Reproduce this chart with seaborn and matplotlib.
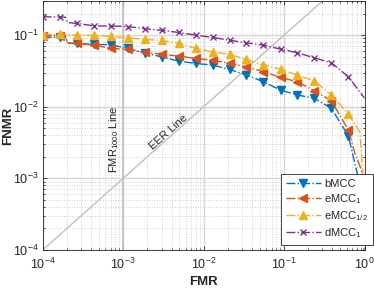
import numpy as np
import matplotlib
matplotlib.use("Agg")
import matplotlib.pyplot as plt
import matplotlib.ticker as mticker
import seaborn as sns

# data (FMR given as log10, FNMR as value)
bmcc_fmr_log = [-4.0, -3.789, -3.72, -3.69, -3.578, -3.367, -3.156, -2.944, -2.733, -2.522,
                -2.311, -2.1, -1.889, -1.678, -1.467, -1.256, -1.044, -0.833, -0.622, -0.411,
                -0.2, -0.10, -0.04, -0.03]
bmcc_fnmr = [0.0935, 0.0935, 0.0935, 0.078, 0.0766, 0.0741, 0.0735, 0.0653, 0.0561, 0.0498,
             0.0434, 0.0403, 0.0382, 0.0333, 0.0277, 0.0223, 0.0171, 0.0146, 0.0131, 0.0095,
             0.0039, 0.0013, 0.00069, 0.00034]
bmcc_marks = [0, 1] + list(range(4, 21))

emcc1_fmr_log = [-4.0, -3.789, -3.72, -3.69, -3.578, -3.367, -3.156, -2.944, -2.733, -2.522,
                 -2.311, -2.1, -1.889, -1.678, -1.467, -1.256, -1.044, -0.833, -0.622, -0.411,
                 -0.2, -0.121, -0.037, -0.01, -0.005]
emcc1_fnmr = [0.098, 0.098, 0.098, 0.078, 0.0766, 0.0726, 0.0653, 0.0632, 0.0574, 0.0544,
              0.0509, 0.0473, 0.0448, 0.0403, 0.0361, 0.0308, 0.0257, 0.0223, 0.0167, 0.0121,
              0.00473, 0.00226, 0.0013, 0.0004, 0.00005]
emcc1_marks = [0, 1] + list(range(4, 21))

emcc12_fmr_log = [-4.0, -3.789, -3.578, -3.367, -3.156, -2.944, -2.733, -2.522, -2.311, -2.1,
                  -1.889, -1.678, -1.467, -1.256, -1.044, -0.833, -0.622, -0.411, -0.2,
                  -0.058, -0.021, -0.015]
emcc12_fnmr = [0.102, 0.103, 0.100, 0.099, 0.096, 0.0917, 0.0871, 0.0843, 0.0774, 0.0653,
               0.0585, 0.0538, 0.0458, 0.0382, 0.0336, 0.0277, 0.0228, 0.0146, 0.00783,
               0.00448, 0.0013, 0.00025]
emcc12_marks = list(range(0, 19))

dmcc1_fmr_log = [-4.0, -3.789, -3.72, -3.69, -3.578, -3.367, -3.156, -2.944, -2.733, -2.522,
                 -2.311, -2.1, -1.889, -1.678, -1.467, -1.256, -1.044, -0.833, -0.622, -0.411,
                 -0.2, 0.0]
dmcc1_fnmr = [0.180, 0.180, 0.178, 0.150, 0.146, 0.135, 0.134, 0.132, 0.123, 0.117,
              0.109, 0.100, 0.093, 0.085, 0.078, 0.0726, 0.0638, 0.0567, 0.0482, 0.0411,
              0.0262, 0.0132]
dmcc1_marks = [0, 1] + list(range(4, 21))

series = [
    ("bMCC", bmcc_fmr_log, bmcc_fnmr, bmcc_marks, "#0072BD", "v"),
    ("eMCC$_1$", emcc1_fmr_log, emcc1_fnmr, emcc1_marks, "#D95319", "<"),
    ("eMCC$_{1/2}$", emcc12_fmr_log, emcc12_fnmr, emcc12_marks, "#EDB120", "^"),
    ("dMCC$_1$", dmcc1_fmr_log, dmcc1_fnmr, dmcc1_marks, "#7E2F8E", "x"),
]

sns.set_style("ticks")
plt.rcParams["font.family"] = ["Liberation Sans", "DejaVu Sans"]
plt.rcParams["mathtext.default"] = "regular"

fig = plt.figure(figsize=(3.74, 2.89), dpi=100)
ax = fig.add_axes([0.1142, 0.135, 0.8604, 0.8616])
ax.set_xscale("log")
ax.set_yscale("log")

# reference lines
ax.plot([1e-4, 1], [1e-4, 1], color="#c0c0c0", lw=1, zorder=1)
ax.axvline(1e-3, color="#c0c0c0", lw=1.2, zorder=1)

for name, xl, yv, marks, col, mk in series:
    ms = 4 if mk == "x" else 5.6
    sns.lineplot(x=10 ** np.array(xl), y=yv, ax=ax, color=col, lw=1, linestyle="-.",
                 marker=mk, markersize=ms, markevery=marks, markeredgecolor=col,
                 markerfacecolor=col, markeredgewidth=1, sort=False, estimator=None,
                 label=name, zorder=3)

ax.text(0.00093, 1.2e-3, "FMR$_{1000}$ Line", rotation=90, ha="right", va="bottom",
        fontsize=8, color="#262626")
ax.text(10 ** -2.63, 10 ** -2.61, "EER Line", rotation=41.7, rotation_mode="anchor",
        ha="left", va="baseline", fontsize=8, color="#262626")

ax.set_xlim(1e-4, 1)
ax.set_ylim(1e-4, 0.3)
ax.xaxis.set_major_locator(mticker.LogLocator(base=10, numticks=10))
ax.yaxis.set_major_locator(mticker.LogLocator(base=10, numticks=10))
ax.xaxis.set_minor_locator(mticker.LogLocator(base=10, subs=np.arange(2, 10), numticks=20))
ax.yaxis.set_minor_locator(mticker.LogLocator(base=10, subs=np.arange(2, 10), numticks=20))
ax.xaxis.set_minor_formatter(mticker.NullFormatter())
ax.yaxis.set_minor_formatter(mticker.NullFormatter())

ax.grid(which="major", color="#d6d6d6", lw=1.0, ls="-", zorder=0)
ax.grid(which="minor", color="#d0d0d0", lw=0.7, ls=":", zorder=0)
ax.set_axisbelow(True)

ax.tick_params(which="both", direction="in", top=True, right=True, colors="#262626",
               labelsize=9, width=0.6)
ax.tick_params(which="major", length=3)
ax.tick_params(axis="x", which="major", pad=5)
ax.tick_params(axis="y", which="major", pad=3)
ax.tick_params(which="minor", length=1.5)
for s in ax.spines.values():
    s.set_color("#262626")
    s.set_linewidth(0.6)

ax.set_xlabel("FMR", fontsize=9.5, fontweight="bold", color="#262626")
ax.set_ylabel("FNMR", fontsize=9.5, fontweight="bold", color="#262626")
ax.xaxis.set_label_coords(0.5, -0.1285)
ax.yaxis.set_label_coords(-0.106, 0.5)
ax.xaxis.label.set_va("center")
ax.yaxis.label.set_va("center")

leg = ax.legend(loc="upper right", bbox_to_anchor=(0.997, 0.397), bbox_transform=fig.transFigure,
                borderaxespad=0, fontsize=8, fancybox=False, framealpha=1,
                edgecolor="#262626", handlelength=3.2, labelspacing=0.3,
                handletextpad=0.3, borderpad=0.4)
leg.get_frame().set_linewidth(0.6)

fig.savefig("out.png", dpi=100)
